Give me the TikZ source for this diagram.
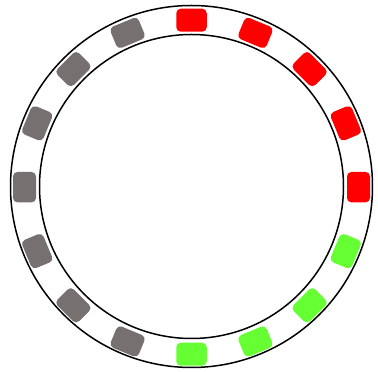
\documentclass[tikz,border=0pt]{standalone}
\usetikzlibrary{calc}
\definecolor{slotred}{RGB}{255,0,0}
\definecolor{slotgreen}{RGB}{102,255,51}
\definecolor{slotgray}{RGB}{118,113,112}
\begin{document}
\begin{tikzpicture}[x=1pt,y=1pt,
  ring/.style={circle, draw=black, line width=1.5pt, inner sep=0pt, fill=none},
  slot/.style={rectangle, rounded corners=4.5pt, inner sep=0pt,
    minimum width=30.5pt, minimum height=23pt, draw=none}]
  \useasboundingbox (0,0) rectangle (378,372);
  \coordinate (c) at (191.5,185.5);
  \coordinate (sc) at (191.5,184.8);
  % the two rings
  \node[ring, minimum size=362pt] (outer) at (c) {};
  \node[ring, minimum size=304pt] (inner) at (c) {};
  % sixteen slots, every 22.5 degrees
  \foreach \i/\a/\col in {1/90/slotred, 2/67.5/slotred, 3/45/slotred, 4/22.5/slotred, 5/0/slotred,
    6/-22.5/slotgreen, 7/-45/slotgreen, 8/-67.5/slotgreen, 9/-90/slotgreen,
    10/-112.5/slotgray, 11/-135/slotgray, 12/-157.5/slotgray, 13/180/slotgray,
    14/157.5/slotgray, 15/135/slotgray, 16/112.5/slotgray} {
    \node[slot, fill=\col, rotate=\a-90] (slot\i) at ($(sc)+(\a:167)$) {};
  }
\end{tikzpicture}
\end{document}
